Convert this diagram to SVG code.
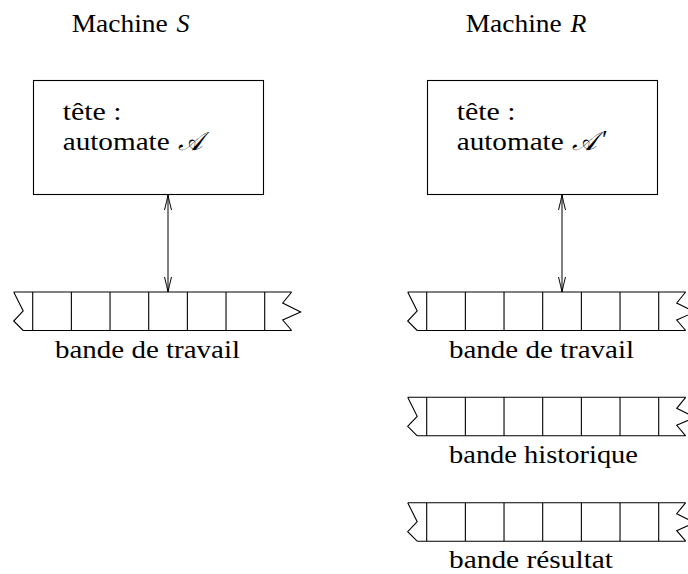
<svg xmlns="http://www.w3.org/2000/svg" width="688" height="574" viewBox="0 0 688 574">
<style>
  .t { font-family: 'Liberation Serif', 'Times New Roman', 'DejaVu Serif', serif; font-size: 26px; fill: #000; }
  .it { font-style: italic; }
  .box { fill: none; stroke: #000; stroke-width: 1.1; }
  .tape { fill: none; stroke: #000; stroke-width: 1.1; stroke-linejoin: miter; }
  .conn { fill: none; stroke: #000; stroke-width: 1; }
</style>
<defs>
  <marker id="head" markerUnits="userSpaceOnUse" markerWidth="20" markerHeight="10" viewBox="-16 -5 18 10" refX="0" refY="0" orient="auto-start-reverse">
    <path d="M-15,-3.5 Q-6,-1.2 0,0 Q-6,1.2 -15,3.5" fill="none" stroke="#000" stroke-width="1"/>
  </marker>
  <g id="tapeShape">
    <path class="tape" d="M-19,0 H259 M-9.5,38.5 H259 M-19,0 L-9.5,19 L-19,29 L-9.5,38.5 M259,0 L250,11 L268,20 L250,28 L259,38.5 M0,0 V38.5 M38.67,0 V38.5 M77.33,0 V38.5 M116,0 V38.5 M154.67,0 V38.5 M193.33,0 V38.5 M232,0 V38.5"/>
  </g>
</defs>

<g id="titleS"><text class="t" x="71.7" y="32"><tspan textLength="96" lengthAdjust="spacingAndGlyphs">Machine</tspan><tspan x="176.5" class="it">S</tspan></text></g>
<g id="titleR"><text class="t" x="465.7" y="32"><tspan textLength="96" lengthAdjust="spacingAndGlyphs">Machine</tspan><tspan x="570.5" class="it">R</tspan></text></g>

<g id="headS">
  <rect class="box" x="33.5" y="80.5" width="230" height="114"/>
  <text class="t" x="62.7" y="120" textLength="59" lengthAdjust="spacingAndGlyphs">tête :</text>
  <text class="t" x="62.7" y="150"><tspan textLength="107" lengthAdjust="spacingAndGlyphs">automate</tspan><tspan x="178" class="it">𝒜</tspan></text>
</g>
<g id="headR">
  <rect class="box" x="427.5" y="80.5" width="230" height="114"/>
  <text class="t" x="456.7" y="120" textLength="59" lengthAdjust="spacingAndGlyphs">tête :</text>
  <text class="t" x="456.7" y="150"><tspan textLength="107" lengthAdjust="spacingAndGlyphs">automate</tspan><tspan x="572" class="it">𝒜</tspan><tspan x="602" y="148">′</tspan></text>
</g>

<g id="tapeS">
  <use href="#tapeShape" x="32.7" y="292"/>
  <text class="t" x="55" y="358" textLength="185" lengthAdjust="spacingAndGlyphs">bande de travail</text>
</g>
<g id="tapeR1">
  <use href="#tapeShape" x="426.7" y="292"/>
  <text class="t" x="449" y="358" textLength="185" lengthAdjust="spacingAndGlyphs">bande de travail</text>
</g>
<g id="tapeR2">
  <use href="#tapeShape" x="426.7" y="397.3"/>
  <text class="t" x="449" y="463" textLength="189" lengthAdjust="spacingAndGlyphs">bande historique</text>
</g>
<g id="tapeR3">
  <use href="#tapeShape" x="426.7" y="502.7"/>
  <text class="t" x="449" y="568" textLength="164" lengthAdjust="spacingAndGlyphs">bande résultat</text>
</g>

<g id="connectors">
  <line class="conn" x1="168" y1="195" x2="168" y2="292" marker-start="url(#head)" marker-end="url(#head)"/>
  <line class="conn" x1="562" y1="195" x2="562" y2="292" marker-start="url(#head)" marker-end="url(#head)"/>
</g>
</svg>
